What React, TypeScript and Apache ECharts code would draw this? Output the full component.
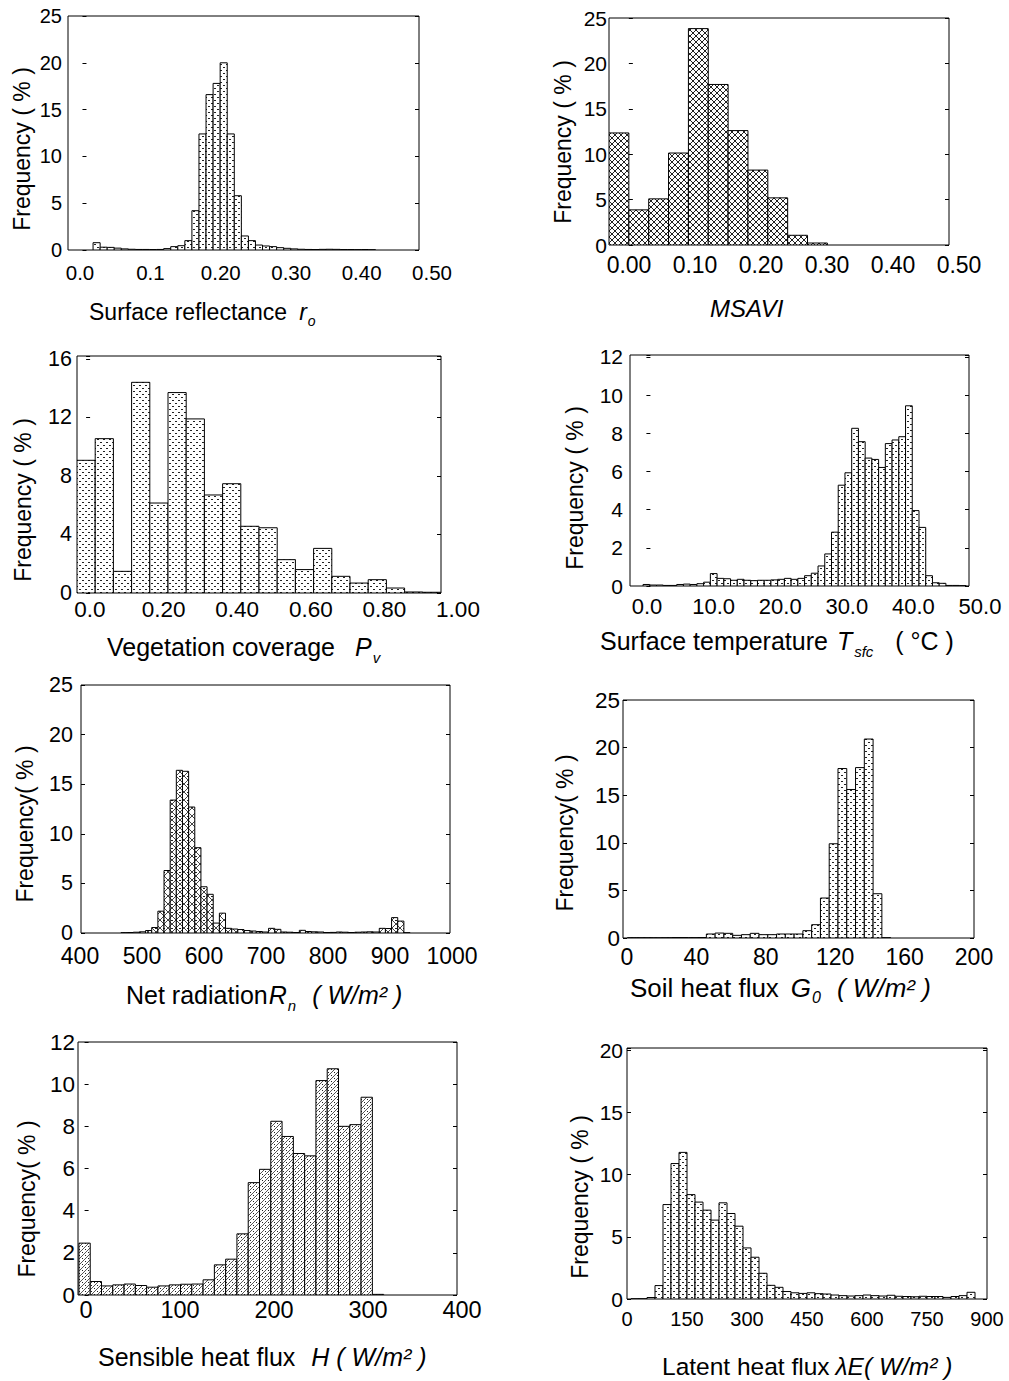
import React, { useEffect, useRef } from "react";
import * as echarts from "echarts";

const FONT = '"Liberation Sans", Arial, Helvetica, sans-serif';

// ---------------- data ----------------
// 1. Surface reflectance (bins of 0.01, first centred at 0.02)
const reflectanceBinStart = 0.015;
const reflectanceBinWidth = 0.01;
const reflectanceFreq = [
  0.78, 0.3, 0.28, 0.2, 0.12, 0.08, 0.06, 0.06, 0.05, 0.06,
  0.15, 0.36, 0.46, 1.0, 4.2, 12.4, 16.6, 17.8, 20.0, 12.4,
  5.8, 1.5, 1.0, 0.53, 0.43, 0.36, 0.25, 0.18, 0.12, 0.08,
  0.06, 0.05, 0.07, 0.08, 0.07, 0.05, 0.05, 0.04, 0.05, 0.03,
];
const reflectanceTicks = ["0.0", "0.1", "0.20", "0.30", "0.40", "0.50"];

// 2. MSAVI (bins of 0.03 from -0.03)
const msaviBinStart = -0.03;
const msaviBinWidth = 0.03;
const msaviFreq = [12.34, 3.87, 5.08, 10.13, 23.83, 17.68, 12.6, 8.25, 5.19, 1.07, 0.22];
const msaviTicks = ["0.00", "0.10", "0.20", "0.30", "0.40", "0.50"];

// 3. Vegetation coverage (bins of 0.05 centred at 0, 0.05, ...)
const vegBinStart = -0.025;
const vegBinWidth = 0.05;
const vegFreq = [
  9.07, 10.55, 1.48, 14.4, 6.15, 13.7, 11.9, 6.7, 7.47, 4.56,
  4.46, 2.28, 1.6, 3.05, 1.14, 0.68, 0.91, 0.34, 0.07, 0.05,
];
const vegTicks = ["0.0", "0.20", "0.40", "0.60", "0.80", "1.00"];

// 4. Surface temperature (1 degC bins centred at 0..47)
const tempBinStart = -0.5;
const tempBinWidth = 1;
const tempFreq = [
  0.08, 0.05, 0.05, 0.03, 0.03, 0.08, 0.1, 0.08, 0.12, 0.2,
  0.65, 0.4, 0.38, 0.3, 0.35, 0.3, 0.28, 0.3, 0.3, 0.32,
  0.35, 0.4, 0.35, 0.4, 0.54, 0.67, 1.05, 1.68, 2.82, 5.28,
  5.93, 8.26, 7.56, 6.7, 6.63, 6.21, 7.46, 7.65, 7.82, 9.44,
  3.95, 3.07, 0.54, 0.17, 0.14, 0.03, 0.03, 0.02,
];
const tempTicks = ["0.0", "10.0", "20.0", "30.0", "40.0", "50.0"];

// 5. Net radiation (10 W/m2 bins centred at 470..930)
const rnBinStart = 465;
const rnBinWidth = 10;
const rnFreq = [
  0.03, 0.05, 0.08, 0.12, 0.25, 0.55, 2.2, 6.3, 13.4, 16.4,
  16.3, 12.7, 8.6, 4.66, 3.9, 1.0, 2.0, 0.47, 0.4, 0.35,
  0.25, 0.2, 0.15, 0.1, 0.47, 0.37, 0.1, 0.08, 0.05, 0.27,
  0.15, 0.12, 0.1, 0.05, 0.06, 0.1, 0.08, 0.05, 0.08, 0.1,
  0.12, 0.1, 0.47, 0.45, 1.55, 1.2, 0.03,
];
const rnTicks = ["400", "500", "600", "700", "800", "900", "1000"];

// 6. Soil heat flux (5 W/m2 bins centred at 5..150)
const g0BinStart = 2.5;
const g0BinWidth = 5;
const g0Freq = [
  0.03, 0.03, 0.03, 0.02, 0.03, 0.05, 0.05, 0.04, 0.05, 0.42,
  0.52, 0.49, 0.28, 0.35, 0.49, 0.35, 0.35, 0.42, 0.42, 0.42,
  0.77, 1.4, 4.2, 9.9, 17.8, 15.6, 17.9, 20.9, 4.65, 0.03,
];
const g0Ticks = ["0", "40", "80", "120", "160", "200"];

// 7. Sensible heat flux (12 W/m2 bins centred at 0..312)
const hBinStart = -6;
const hBinWidth = 12;
const hFreq = [
  2.46, 0.64, 0.43, 0.48, 0.52, 0.45, 0.37, 0.43, 0.48, 0.51,
  0.52, 0.72, 1.43, 1.7, 2.9, 5.33, 5.96, 8.24, 7.52, 6.71,
  6.6, 10.17, 10.73, 8.0, 8.08, 9.38, 0.03,
];
const hTicks = ["0", "100", "200", "300", "400"];

// 8. Latent heat flux (20 W/m2 bins centred at 20..860)
const leBinStart = 10;
const leBinWidth = 20;
const leFreq = [
  0.02, 0.02, 0.12, 1.08, 7.6, 10.9, 11.8, 8.4, 7.8, 7.15,
  6.35, 7.74, 6.88, 5.86, 4.11, 3.36, 2.07, 1.1, 0.94, 0.6,
  0.5, 0.45, 0.5, 0.43, 0.4, 0.32, 0.27, 0.24, 0.27, 0.32,
  0.27, 0.24, 0.3, 0.22, 0.2, 0.18, 0.22, 0.2, 0.2, 0.13,
  0.2, 0.27, 0.54,
];
const leTicks = ["0", "150", "300", "450", "600", "750", "900"];

// ---------------- helpers ----------------
type Seg = { t: string; i?: boolean; sub?: boolean; gap?: number };

let measureCtx: CanvasRenderingContext2D | null = null;
function measure(text: string, size: number, italic?: boolean) {
  if (!measureCtx) measureCtx = document.createElement("canvas").getContext("2d");
  measureCtx!.font = `${italic ? "italic " : ""}${size}px ${FONT}`;
  return measureCtx!.measureText(text).width;
}

function titleElements(segs: Seg[], left: number, cy: number, size: number) {
  let x = left;
  const out: any[] = [];
  for (const s of segs) {
    x += s.gap || 0;
    const fs = s.sub ? Math.round(size * 0.6) : size;
    out.push({
      type: "text",
      x,
      y: cy + (s.sub ? size * 0.4 : 0),
      silent: true,
      style: {
        text: s.t,
        fontSize: fs,
        fontFamily: FONT,
        fontStyle: s.i ? "italic" : "normal",
        fill: "#000",
        align: "left",
        verticalAlign: "middle",
      },
    });
    x += measure(s.t, fs, s.i);
  }
  return out;
}

function makePattern(kind: string) {
  const size = kind === "crossDots" ? 8 : 6;
  const c = document.createElement("canvas");
  c.width = size;
  c.height = size;
  const g = c.getContext("2d")!;
  g.fillStyle = "#fff";
  g.fillRect(0, 0, size, size);
  g.fillStyle = "#222";
  g.strokeStyle = "#222";
  g.lineWidth = 1;
  if (kind === "dots") {
    g.fillRect(1, 1, 2, 1);
    g.fillRect(4, 4, 2, 1);
  } else if (kind === "cross") {
    g.beginPath();
    g.moveTo(0, 0);
    g.lineTo(size, size);
    g.moveTo(size, 0);
    g.lineTo(0, size);
    g.stroke();
  } else if (kind === "crossDots") {
    g.strokeStyle = "#444";
    g.beginPath();
    g.moveTo(0, 0);
    g.lineTo(size, size);
    g.moveTo(size, 0);
    g.lineTo(0, size);
    g.stroke();
    g.fillRect(3, 0, 2, 1);
  } else if (kind === "diagDots") {
    g.strokeStyle = "#555";
    g.beginPath();
    g.moveTo(size, 0);
    g.lineTo(0, size);
    g.stroke();
    g.fillRect(1, 1, 1, 1);
    g.fillRect(4, 4, 1, 1);
  }
  return { image: c, repeat: "repeat", imageWidth: size, imageHeight: size };
}

function bins(start: number, width: number, values: number[]) {
  return values.map((v, k) => [start + k * width, start + (k + 1) * width, v]);
}

type Panel = {
  left: number; right: number; top: number; bottom: number;
  xMin: number; xMax: number; yMax: number; yStep: number;
  data: number[][];
  labelLeft: number; labelRight: number; labelMin: number; labelMax: number; labelStep: number;
  labels: string[];
  xFont: number; yFont: number; xLabelMargin: number; yLabelMargin: number; xLabelLH?: number;
  pattern: string;
  yName: string; yNameX: number; yNameY: number;
  title: Seg[]; titleX: number; titleY: number; titleSize: number;
};

const panels: Panel[] = [
  {
    left: 68, right: 419, top: 16, bottom: 250, xMin: -0.0205, xMax: 0.4766, yMax: 25, yStep: 5,
    data: bins(reflectanceBinStart, reflectanceBinWidth, reflectanceFreq),
    labelLeft: 80, labelRight: 432, labelMin: 0, labelMax: 0.5, labelStep: 0.1, labels: reflectanceTicks,
    xFont: 20.5, yFont: 20, xLabelMargin: 12, yLabelMargin: 6, pattern: "dots",
    yName: "Frequency ( % )", yNameX: 22, yNameY: 149,
    title: [{ t: "Surface reflectance" }, { t: "r", i: true, gap: 12 }, { t: "o", i: true, sub: true, gap: 1 }],
    titleX: 89, titleY: 311.5, titleSize: 23,
  },
  {
    left: 609, right: 949, top: 18, bottom: 245, xMin: -0.03, xMax: 0.4838, yMax: 25, yStep: 5,
    data: bins(msaviBinStart, msaviBinWidth, msaviFreq),
    labelLeft: 629, labelRight: 959, labelMin: 0, labelMax: 0.5, labelStep: 0.1, labels: msaviTicks,
    xFont: 23, yFont: 21, xLabelMargin: 8, yLabelMargin: 2, pattern: "cross",
    yName: "Frequency ( % )", yNameX: 563, yNameY: 142,
    title: [{ t: "MSAVI", i: true }],
    titleX: 710, titleY: 308.5, titleSize: 24,
  },
  {
    left: 77, right: 441, top: 356, bottom: 593, xMin: -0.025, xMax: 0.975, yMax: 16.2, yStep: 4,
    data: bins(vegBinStart, vegBinWidth, vegFreq),
    labelLeft: 90, labelRight: 458, labelMin: 0, labelMax: 1, labelStep: 0.2, labels: vegTicks,
    xFont: 22.5, yFont: 21.5, xLabelMargin: 5, yLabelMargin: 5, pattern: "dots",
    yName: "Frequency ( % )", yNameX: 23, yNameY: 500,
    title: [{ t: "Vegetation coverage" }, { t: "P", i: true, gap: 20 }, { t: "v", i: true, sub: true, gap: 1 }],
    titleX: 107, titleY: 647, titleSize: 25,
  },
  {
    left: 630, right: 969, top: 355, bottom: 586, xMin: -2.44, xMax: 47.93, yMax: 12.1, yStep: 2,
    data: bins(tempBinStart, tempBinWidth, tempFreq),
    labelLeft: 647, labelRight: 980, labelMin: 0, labelMax: 50, labelStep: 10, labels: tempTicks,
    xFont: 22, yFont: 21, xLabelMargin: 9, yLabelMargin: 7, pattern: "dots",
    yName: "Frequency ( % )", yNameX: 575, yNameY: 488,
    title: [
      { t: "Surface temperature" }, { t: "T", i: true, gap: 9 },
      { t: "sfc", i: true, sub: true, gap: 2 }, { t: "( °C )", gap: 22 },
    ],
    titleX: 600, titleY: 641, titleSize: 25,
  },
  {
    left: 81, right: 450, top: 685, bottom: 933, xMin: 400, xMax: 1000, yMax: 25, yStep: 5,
    data: bins(rnBinStart, rnBinWidth, rnFreq),
    labelLeft: 80, labelRight: 452, labelMin: 400, labelMax: 1000, labelStep: 100, labels: rnTicks,
    xFont: 23, yFont: 21.5, xLabelMargin: 14, xLabelLH: 18, yLabelMargin: 8, pattern: "crossDots",
    yName: "Frequency( % )", yNameX: 25, yNameY: 824,
    title: [
      { t: "Net radiation" }, { t: "R", i: true, gap: 1 },
      { t: "n", i: true, sub: true, gap: 1 }, { t: "( W/m² )", i: true, gap: 16 },
    ],
    titleX: 126, titleY: 995, titleSize: 25,
  },
  {
    left: 623, right: 974, top: 700, bottom: 938, xMin: 0, xMax: 200, yMax: 25, yStep: 5,
    data: bins(g0BinStart, g0BinWidth, g0Freq),
    labelLeft: 627, labelRight: 974, labelMin: 0, labelMax: 200, labelStep: 40, labels: g0Ticks,
    xFont: 23, yFont: 22.5, xLabelMargin: 7, yLabelMargin: 3, pattern: "dots",
    yName: "Frequency( % )", yNameX: 565, yNameY: 833,
    title: [
      { t: "Soil heat flux" }, { t: "G", i: true, gap: 12 },
      { t: "0", i: true, sub: true, gap: 1 }, { t: "( W/m² )", i: true, gap: 16 },
    ],
    titleX: 630, titleY: 987.5, titleSize: 26,
  },
  {
    left: 78, right: 457, top: 1042, bottom: 1295, xMin: -7, xMax: 396, yMax: 12, yStep: 2,
    data: bins(hBinStart, hBinWidth, hFreq),
    labelLeft: 86, labelRight: 462, labelMin: 0, labelMax: 400, labelStep: 100, labels: hTicks,
    xFont: 23.5, yFont: 22.5, xLabelMargin: 3, yLabelMargin: 3, pattern: "diagDots",
    yName: "Frequency( % )", yNameX: 27, yNameY: 1199,
    title: [{ t: "Sensible heat flux" }, { t: "H ( W/m² )", i: true, gap: 16 }],
    titleX: 98, titleY: 1356.5, titleSize: 25,
  },
  {
    left: 627, right: 987, top: 1048, bottom: 1299, xMin: 0, xMax: 900, yMax: 20.2, yStep: 5,
    data: bins(leBinStart, leBinWidth, leFreq),
    labelLeft: 627, labelRight: 987, labelMin: 0, labelMax: 900, labelStep: 150, labels: leTicks,
    xFont: 20, yFont: 21, xLabelMargin: 10, yLabelMargin: 4, pattern: "dots",
    yName: "Frequency ( % )", yNameX: 580, yNameY: 1197,
    title: [{ t: "Latent heat flux" }, { t: "λE( W/m² )", i: true, gap: 6 }],
    titleX: 662, titleY: 1366.5, titleSize: 24.5,
  },
];

function buildOption() {
  const grid: any[] = [];
  const xAxis: any[] = [];
  const yAxis: any[] = [];
  const series: any[] = [];
  const graphic: any[] = [];

  panels.forEach((p, i) => {
    const h = p.bottom - p.top;
    grid.push({
      left: p.left, top: p.top, width: p.right - p.left, height: h,
      show: true, borderColor: "#000", borderWidth: 1, backgroundColor: "transparent",
    });
    grid.push({
      left: p.labelLeft, top: p.top, width: p.labelRight - p.labelLeft, height: h, show: false,
    });
    xAxis.push({
      gridIndex: 2 * i, type: "value", min: p.xMin, max: p.xMax,
      axisLine: { show: false }, axisTick: { show: false },
      axisLabel: { show: false }, splitLine: { show: false },
    });
    const labels = p.labels;
    const lmin = p.labelMin;
    const lstep = p.labelStep;
    const xLabel: any = {
      color: "#000", fontSize: p.xFont, fontFamily: FONT, margin: p.xLabelMargin,
      formatter: (v: number) => labels[Math.round((v - lmin) / lstep)] ?? "",
    };
    if (p.xLabelLH) xLabel.lineHeight = p.xLabelLH;
    xAxis.push({
      gridIndex: 2 * i + 1, type: "value", min: p.labelMin, max: p.labelMax, interval: p.labelStep,
      axisLine: { show: false }, axisTick: { show: false }, splitLine: { show: false },
      axisLabel: xLabel,
    });
    const step = p.yStep;
    const yLabelFmt = (v: number) =>
      Math.abs(v / step - Math.round(v / step)) < 1e-6 ? String(Math.round(v)) : "";
    yAxis.push({
      gridIndex: 2 * i, type: "value", min: 0, max: p.yMax, interval: p.yStep,
      axisLine: { show: false },
      axisTick: { show: true, inside: true, length: 4, lineStyle: { color: "#000" } },
      splitLine: { show: false },
      axisLabel: {
        color: "#000", fontSize: p.yFont, fontFamily: FONT, margin: p.yLabelMargin,
        lineHeight: Math.round(p.yFont * 0.8),
        formatter: yLabelFmt,
      },
    });
    yAxis.push({
      gridIndex: 2 * i, type: "value", position: "right", min: 0, max: p.yMax, interval: p.yStep,
      axisLine: { show: false },
      axisTick: { show: true, inside: true, length: 4, lineStyle: { color: "#000" } },
      splitLine: { show: false }, axisLabel: { show: false },
    });
    yAxis.push({ gridIndex: 2 * i + 1, type: "value", min: 0, max: 1, show: false });

    const fill = makePattern(p.pattern);
    series.push({
      type: "custom",
      xAxisIndex: 2 * i,
      yAxisIndex: 3 * i,
      silent: true,
      clip: true,
      encode: { x: [0, 1], y: 2 },
      data: p.data,
      renderItem: (_params: any, api: any) => {
        const a = api.coord([api.value(0), api.value(2)]);
        const b = api.coord([api.value(1), 0]);
        return {
          type: "rect",
          shape: { x: a[0], y: a[1], width: b[0] - a[0], height: b[1] - a[1] },
          style: { fill, stroke: "#000", lineWidth: 1 },
        };
      },
    });

    graphic.push({
      type: "text", x: p.yNameX, y: p.yNameY, rotation: Math.PI / 2, silent: true,
      style: {
        text: p.yName, fontSize: 23, fontFamily: FONT, fill: "#000",
        align: "center", verticalAlign: "middle",
      },
    });
    graphic.push(...titleElements(p.title, p.titleX, p.titleY, p.titleSize));
  });

  return {
    animation: false,
    backgroundColor: "#fff",
    grid,
    xAxis,
    yAxis,
    series,
    graphic,
  };
}

export default function App() {
  const ref = useRef<HTMLDivElement>(null);
  useEffect(() => {
    const chart = echarts.init(ref.current!, null, { renderer: "svg" });
    chart.setOption(buildOption() as any);
    return () => chart.dispose();
  }, []);
  return (
    <div
      ref={ref}
      style={{ position: "absolute", left: 0, top: 0, width: 1009, height: 1381, background: "#fff" }}
    />
  );
}
